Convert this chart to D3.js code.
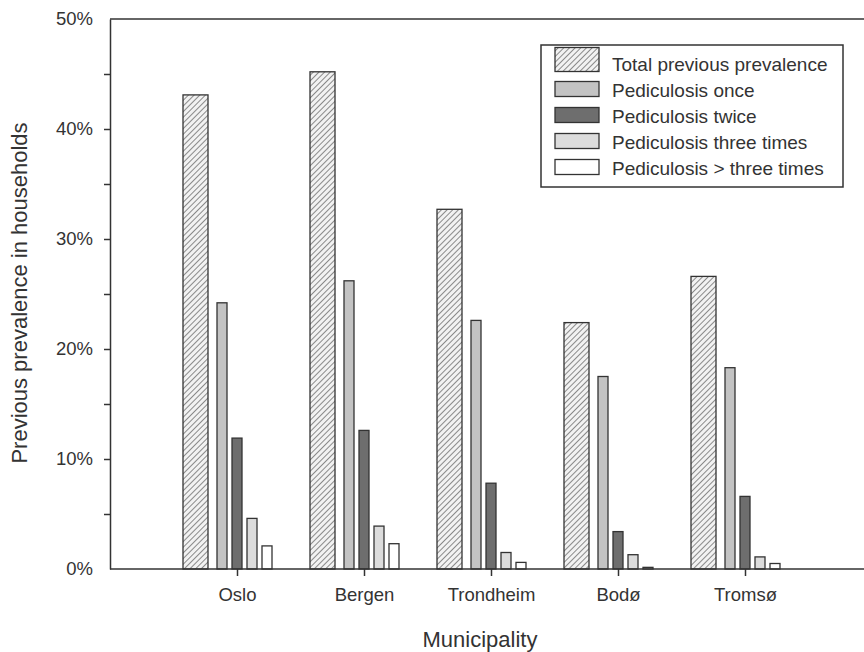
<html>
<head>
    <script src="https://d3js.org/d3.v7.min.js"></script>
    <title>Previous prevalence of pediculosis</title>
</head>
<style>
    body { margin: 0; background: #fff; font-family: "Liberation Sans", Arial, sans-serif; }
    .axis text { font-family: "Liberation Sans", Arial, sans-serif; fill: #333; }
    .axis path, .axis line { stroke: #333; stroke-width: 1.5; }
</style>
<body>
<div id="chart"></div>
<script>
    // data
    const municipalities = ["Oslo", "Bergen", "Trondheim", "Bodø", "Tromsø"];
    const seriesNames = ["Total previous prevalence", "Pediculosis once", "Pediculosis twice",
        "Pediculosis three times", "Pediculosis > three times"];
    const totalPrev = [43.1, 45.2, 32.7, 22.4, 26.6];
    const once = [24.2, 26.2, 22.6, 17.5, 18.3];
    const twice = [11.9, 12.6, 7.8, 3.4, 6.6];
    const threeTimes = [4.6, 3.9, 1.5, 1.3, 1.1];
    const moreThanThree = [2.1, 2.3, 0.6, 0.15, 0.5];
    const yTicks = [0, 10, 20, 30, 40, 50];

    const series = [totalPrev, once, twice, threeTimes, moreThanThree];

    // chart dimensions
    const W = 864, H = 652;
    const mLeft = 110, mRight = 864, mTop = 19, mBottom = 569;

    const fills = ["url(#hatch)", "#c3c3c3", "#6e6e6e", "#dcdcdc", "#ffffff"];
    const barOffset = [-41.5, -15, 0, 15, 30];
    const barWidth = [25, 10, 10, 10, 10];

    const svg = d3.select("#chart").append("svg")
        .attr("width", W)
        .attr("height", H);

    // hatch pattern for total bars
    const pat = svg.append("defs").append("pattern")
        .attr("id", "hatch")
        .attr("patternUnits", "userSpaceOnUse")
        .attr("width", 4).attr("height", 4)
        .attr("patternTransform", "rotate(45)");
    pat.append("rect").attr("width", 4).attr("height", 4).attr("fill", "#f2f2f2");
    pat.append("line").attr("x1", 0).attr("y1", 0).attr("x2", 0).attr("y2", 4)
        .attr("stroke", "#8a8a8a").attr("stroke-width", 2);

    const xScale = d3.scalePoint()
        .domain(municipalities)
        .range([mLeft, 872])
        .padding(1);

    const yScale = d3.scaleLinear()
        .domain([0, 50])
        .range([mBottom, mTop]);

    // bars
    series.forEach(function(vals, s) {
        svg.append("g").selectAll("rect")
            .data(vals)
            .join("rect")
            .attr("x", (d, i) => xScale(municipalities[i]) + barOffset[s] - barWidth[s] / 2)
            .attr("width", barWidth[s])
            .attr("y", d => yScale(d))
            .attr("height", d => yScale(0) - yScale(d))
            .attr("fill", fills[s])
            .attr("stroke", "#333")
            .attr("stroke-width", 1.3);
    });

    // y axis with minor ticks
    svg.append("g")
        .attr("class", "axis")
        .attr("transform", `translate(${mLeft},0)`)
        .call(d3.axisLeft(yScale).tickValues(d3.range(5, 50, 10)).tickSize(6).tickFormat(""))
        .call(g => g.select(".domain").remove());
    svg.append("g")
        .attr("class", "axis")
        .attr("transform", `translate(${mLeft},0)`)
        .call(d3.axisLeft(yScale).tickValues(yTicks).tickSize(6).tickSizeOuter(0).tickPadding(11)
            .tickFormat(d => d + "%"))
        .style("font-size", "18.5px")
        .call(g => g.selectAll(".tick").filter(d => d === 0 || d === 50).select("line").remove());

    // x axis
    svg.append("g")
        .attr("class", "axis")
        .attr("transform", `translate(0,${mBottom})`)
        .call(d3.axisBottom(xScale).tickSize(7).tickSizeOuter(0).tickPadding(12))
        .style("font-size", "18.5px")
        .call(g => g.select(".domain").attr("d", `M${mLeft},0H${mRight}`));

    // top frame line
    svg.append("line")
        .attr("x1", mLeft).attr("x2", mRight)
        .attr("y1", mTop).attr("y2", mTop)
        .attr("stroke", "#333").attr("stroke-width", 1.5);

    // axis titles
    svg.append("text")
        .attr("x", 480).attr("y", 647)
        .attr("text-anchor", "middle")
        .attr("fill", "#333")
        .style("font-size", "22px")
        .text("Municipality");
    svg.append("text")
        .attr("transform", "translate(27,293) rotate(-90)")
        .attr("text-anchor", "middle")
        .attr("fill", "#333")
        .style("font-size", "22px")
        .text("Previous prevalence in households");

    // legend
    const legend = svg.append("g");
    legend.append("rect")
        .attr("x", 541).attr("y", 45).attr("width", 302).attr("height", 142)
        .attr("fill", "#fff").attr("stroke", "#333").attr("stroke-width", 1.5);
    seriesNames.forEach(function(name, s) {
        const cy = 64 + s * 26;
        const h = s === 0 ? 24 : 15;
        legend.append("rect")
            .attr("x", 555).attr("y", (s === 0 ? 59.5 : cy - 1) - h / 2)
            .attr("width", 44).attr("height", h)
            .attr("fill", fills[s]).attr("stroke", "#333").attr("stroke-width", 1.3);
        legend.append("text")
            .attr("x", 612).attr("y", cy)
            .attr("dy", "0.35em")
            .attr("fill", "#333")
            .style("font-size", "19px")
            .text(name);
    });
</script>
</body>
</html>
